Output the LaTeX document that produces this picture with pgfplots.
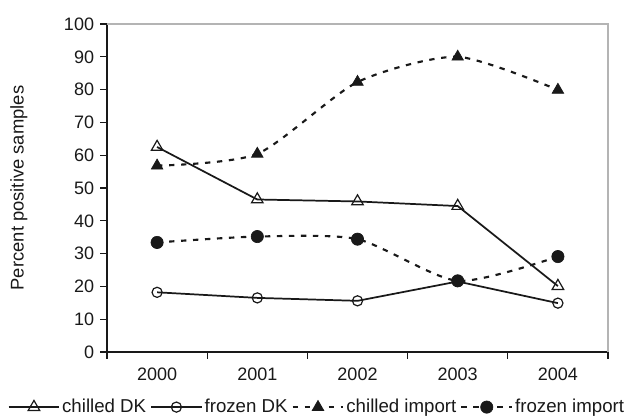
\documentclass[border=0pt]{standalone}
\usepackage{fontspec}
\setmainfont{Liberation Sans}
\usepackage{pgfplots}
\pgfplotsset{compat=1.18}
\definecolor{lineblack}{RGB}{25,25,25}
\definecolor{framegray}{RGB}{180,180,180}

\begin{document}
\begin{tikzpicture}
\begin{axis}[
    scale only axis,
    width=375.75pt,
    height=246pt,
    xmin=-0.5, xmax=4.5,
    ymin=0, ymax=100,
    axis x line*=bottom,
    axis y line*=left,
    axis line style={line width=0.8pt, color=lineblack, -},
    xtick={0,1,2,3,4},
    xticklabels={2000,2001,2002,2003,2004},
    major x tick style={draw=none},
    minor xtick={-0.5,0.5,1.5,2.5,3.5,4.5},
    minor x tick style={line width=0.8pt, color=lineblack},
    ytick={0,10,...,100},
    y tick style={line width=0.8pt, color=lineblack},
    tick align=outside,
    major tick length=5.2pt,
    minor tick length=5.2pt,
    tick label style={font=\fontsize{13.5}{16}\selectfont, color=lineblack},
    /pgf/number format/assume math mode=true,
    yticklabel style={xshift=-1pt},
    xticklabel style={yshift=-3.5pt},
    ylabel={Percent positive samples},
    every axis y label/.style={at={(axis description cs:-0.176,0.5)}, rotate=90, anchor=center,
        font=\fontsize{13.8}{16}\selectfont, color=lineblack},
    legend columns=4,
    legend style={draw=none, fill=none, at={(0.419,-0.168)}, anchor=center,
        font=\fontsize{14}{16}\selectfont, text=lineblack,
        /tikz/every even column/.append style={column sep=1.5pt},
        inner sep=0pt, nodes={inner sep=1.5pt}},
    legend cell align=left,
    legend image code/.code={\draw[mark repeat=2,mark phase=2] plot coordinates {(0pt,0pt) (19pt,0pt) (38pt,0pt)};},
    clip=false,
]

\addplot[color=lineblack, line width=1.3pt, mark=triangle, mark size=5pt,
    mark options={solid, fill=white, line width=0.9pt}]
    coordinates {(0,62.5)(1,46.5)(2,45.9)(3,44.5)(4,20.1)};
\addlegendentry{chilled DK}

\addplot[color=lineblack, line width=1.3pt, mark=o, mark size=3.8pt,
    mark options={solid, fill=white, line width=0.9pt}]
    coordinates {(0,18.2)(1,16.5)(2,15.6)(3,21.5)(4,14.9)};
\addlegendentry{frozen DK}

\addplot[color=lineblack, line width=1.6pt, dash pattern=on 4pt off 5pt, smooth, tension=0.42,
    mark=triangle*, mark size=5pt, mark options={solid, fill=lineblack, line width=0.5pt}]
    coordinates {(0,56.8)(1,60.4)(2,82.3)(3,90.0)(4,79.9)};
\addlegendentry{chilled import}

\addplot[color=lineblack, line width=1.6pt, dash pattern=on 4pt off 5pt, smooth, tension=0.42,
    mark=*, mark size=4.6pt, mark options={solid, fill=lineblack, line width=0.5pt}]
    coordinates {(0,33.4)(1,35.2)(2,34.4)(3,21.7)(4,29.1)};
\addlegendentry{frozen import}

\draw[framegray, line width=1pt] (rel axis cs:0,1) -- (rel axis cs:1,1) -- (rel axis cs:1,0);
\coordinate (bbsw) at (rel axis cs:-0.2136,-0.2012);
\coordinate (bbne) at (rel axis cs:1.0399,1.0732);
\end{axis}
\pgfresetboundingbox
\useasboundingbox (bbsw) rectangle (bbne);
\end{tikzpicture}
\end{document}
